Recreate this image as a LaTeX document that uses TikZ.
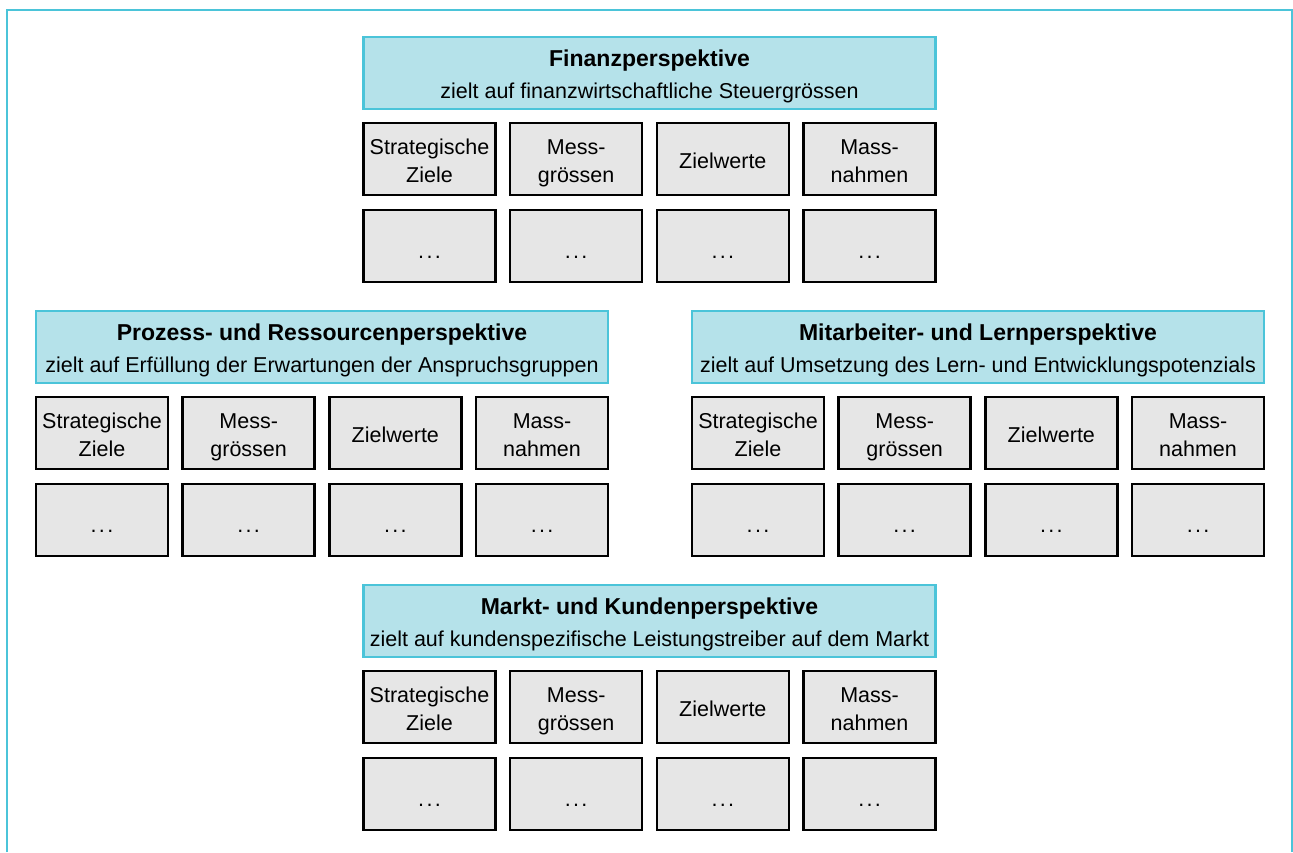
\documentclass[tikz,border=0pt]{standalone}
\usepackage{fontspec}
\setmainfont{Liberation Sans}
\usetikzlibrary{positioning}
\definecolor{bscframe}{HTML}{4BC4D9}
\definecolor{bschead}{HTML}{B5E2EA}
\definecolor{bsccell}{HTML}{E6E6E6}
\newcommand{\topstrut}{\rule{0pt}{23pt}}
\newcommand{\cellgap}{\rule{0pt}{30pt}.\hspace{2.3pt}.\hspace{2.3pt}.}

\begin{document}
\begin{tikzpicture}[
  x=1pt, y=-1pt,
  box/.style={inner sep=0pt, align=center, minimum height=72pt,
    execute at end node=\rule[-5pt]{0pt}{5pt}},
  head/.style={box, draw=bscframe, line width=2.5pt, fill=bschead, minimum width=572pt, font=\fontsize{21.5}{32}\selectfont},
  cell/.style={box, draw=black, line width=2.5pt, fill=bsccell, minimum width=132pt, font=\fontsize{21.5}{28}\selectfont},
]
\useasboundingbox (0,0) rectangle (1293,852);
\draw[bscframe, line width=2.5pt] (7,852) -- (7,10) -- (1292,10) -- (1292,852);

\node[head] (fin) at (649.5,73)
  {\topstrut{\bfseries\fontsize{23}{26}\selectfont Finanzperspektive}\\zielt auf finanzwirtschaftliche Steuergrössen};
\node[head] (pro) at (322,347)
  {\topstrut{\bfseries\fontsize{23}{26}\selectfont Prozess- und Ressourcenperspektive}\\zielt auf Erfüllung der Erwartungen der Anspruchsgruppen};
\node[head] (mit) at (978,347)
  {\topstrut{\bfseries\fontsize{23}{26}\selectfont Mitarbeiter- und Lernperspektive}\\zielt auf Umsetzung des Lern- und Entwicklungspotenzials};
\node[head] (mar) at (649.5,621)
  {\topstrut{\bfseries\fontsize{23}{26}\selectfont Markt- und Kundenperspektive}\\zielt auf kundenspezifische Leistungstreiber auf dem Markt};

% je vier Spalten unter jeder Perspektive
\foreach \g/\gx/\gy in {fin/363.5/73, pro/36/347, mit/692/347, mar/363.5/621}{
  \foreach \i/\t in {1/{Strategische\\Ziele}, 2/{Mess-\\grössen}, 3/Zielwerte, 4/{Mass-\\nahmen}}{
    \node[cell] (\g-k\i) at ({\gx+66+146.67*(\i-1)},{\gy+86}) {\topstrut\t};
    \node[cell] (\g-w\i) at ({\gx+66+146.67*(\i-1)},{\gy+173}) {\cellgap};
  }
}
\end{tikzpicture}
\end{document}
